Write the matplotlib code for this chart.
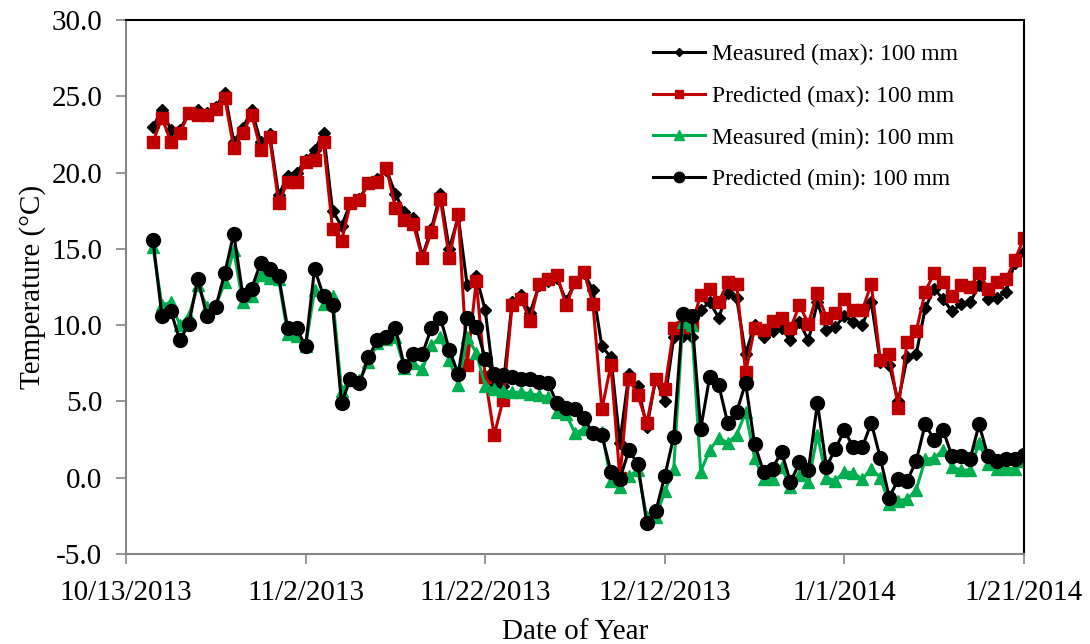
import matplotlib
matplotlib.use("Agg")
import matplotlib.pyplot as plt
import pandas as pd

plt.rcParams['font.family'] = ['Liberation Serif', 'DejaVu Serif']

# daily series, 10/16/2013 .. 1/21/2014
dates = pd.date_range("2013-10-16", "2014-01-21", freq="D")

meas_max = [23.0, 24.1, 22.8, 22.8, 23.9, 24.1, 23.9, 24.3, 25.2, 22.0,
            22.9, 24.1, 22.0, 22.5, 18.5, 19.8, 20.0, 20.8, 21.5, 22.6,
            17.5, 16.5, 18.0, 18.3, 19.3, 19.6, 20.2, 18.6, 17.4, 17.0,
            14.5, 16.3, 18.6, 15.0, 17.1, 12.6, 13.2, 11.0, 6.2, 6.0,
            11.5, 12.0, 10.8, 12.6, 12.9, 13.1, 11.6, 12.8, 13.4, 12.3,
            8.6, 7.9, 2.3, 6.8, 6.0, 3.3, 6.5, 5.0, 9.2, 9.3,
            9.2, 11.0, 11.5, 10.5, 12.1, 11.8, 8.1, 10.0, 9.2, 9.6,
            9.8, 9.0, 10.2, 9.0, 11.5, 9.7, 9.9, 10.6, 10.2, 10.0,
            11.5, 7.6, 7.4, 5.0, 7.9, 8.1, 11.1, 12.4, 11.7, 10.9,
            11.4, 11.5, 12.6, 11.7, 11.8, 12.2, 14.1, 14.8]

pred_max = [22.0, 23.6, 22.0, 22.6, 23.9, 23.8, 23.8, 24.2, 24.9, 21.6,
            22.6, 23.8, 21.5, 22.3, 18.0, 19.4, 19.4, 20.7, 20.8, 22.0,
            16.3, 15.5, 18.0, 18.2, 19.3, 19.4, 20.3, 17.7, 16.9, 16.6,
            14.4, 16.1, 18.3, 14.4, 17.3, 7.4, 12.9, 6.6, 2.8, 5.1,
            11.3, 11.7, 10.3, 12.7, 13.0, 13.3, 11.3, 12.8, 13.5, 11.4,
            4.5, 7.4, 0.0, 6.5, 5.4, 3.6, 6.5, 5.8, 9.8, 9.9,
            10.0, 12.0, 12.4, 11.5, 12.8, 12.7, 6.9, 9.8, 9.7, 10.3,
            10.5, 9.8, 11.3, 10.1, 12.1, 10.5, 10.8, 11.7, 11.0, 11.0,
            12.7, 7.7, 8.1, 4.6, 8.9, 9.6, 12.2, 13.4, 12.8, 11.9,
            12.6, 12.5, 13.4, 12.4, 12.8, 13.0, 14.3, 15.7]

meas_min = [15.1, 11.3, 11.5, 10.0, 10.6, 12.6, 11.2, 11.3, 12.8, 14.9,
            11.5, 11.9, 13.3, 13.1, 13.0, 9.4, 9.3, 8.6, 12.3, 11.4,
            11.9, 5.7, 6.4, 6.4, 7.6, 8.8, 9.1, 9.2, 7.2, 7.5,
            7.1, 8.7, 9.2, 7.7, 6.1, 9.2, 8.2, 6.0, 5.8, 5.7,
            5.6, 5.6, 5.5, 5.4, 5.3, 4.3, 4.2, 2.9, 3.2, 3.0,
            3.0, -0.2, -0.6, 0.1, 0.5, -2.6, -2.6, -0.9, 0.6, 10.2,
            10.0, 0.4, 1.8, 2.6, 2.3, 2.8, 4.3, 1.3, -0.1, -0.1,
            0.7, -0.6, 0.2, -0.3, 2.8, 0.0, -0.2, 0.4, 0.3, -0.1,
            0.6, 0.0, -1.7, -1.5, -1.4, -0.8, 1.2, 1.3, 1.8, 0.7,
            0.5, 0.5, 2.3, 0.9, 0.6, 0.6, 0.6, 1.1]

pred_min = [15.6, 10.6, 10.9, 9.0, 10.1, 13.0, 10.6, 11.2, 13.4, 16.0,
            12.0, 12.4, 14.1, 13.7, 13.2, 9.8, 9.8, 8.6, 13.7, 11.9,
            11.3, 4.9, 6.5, 6.2, 7.9, 9.0, 9.2, 9.8, 7.3, 8.1,
            8.1, 9.8, 10.5, 8.4, 6.8, 10.5, 9.9, 7.8, 6.8, 6.7,
            6.6, 6.5, 6.5, 6.3, 6.2, 4.9, 4.6, 4.5, 3.9, 2.9,
            2.8, 0.4, -0.1, 1.8, 0.9, -3.0, -2.2, 0.1, 2.7, 10.7,
            10.6, 3.2, 6.6, 6.1, 3.6, 4.3, 6.2, 2.2, 0.4, 0.6,
            1.7, -0.3, 1.0, 0.5, 4.9, 0.7, 1.9, 3.1, 2.0, 2.0,
            3.6, 1.3, -1.3, -0.1, -0.2, 1.1, 3.5, 2.5, 3.1, 1.4,
            1.4, 1.2, 3.5, 1.4, 1.1, 1.2, 1.2, 1.5]

tick_dates = pd.date_range("2013-10-13", "2014-01-21", freq="20D")
tick_labels = ["10/13/2013", "11/2/2013", "11/22/2013", "12/12/2013",
               "1/1/2014", "1/21/2014"]

fig = plt.figure(figsize=(10.9, 6.44), dpi=100)
ax = fig.add_axes([0.1156, 0.1398, 0.8238, 0.8291])

ax.plot(dates, meas_max, color='black', lw=2.2, marker='D', ms=6,
        label='Measured (max): 100 mm')
ax.plot(dates, pred_max, color='#C00000', lw=2.2, marker='s', ms=8,
        label='Predicted (max): 100 mm')
ax.plot(dates, meas_min, color='#00B050', lw=2.2, marker='^', ms=9,
        label='Measured (min): 100 mm')
ax.plot(dates, pred_min, color='black', lw=2.2, marker='o', ms=10,
        label='Predicted (min): 100 mm')

ax.set_xlim(tick_dates[0], tick_dates[-1])
ax.set_xticks(tick_dates)
ax.set_xticklabels(tick_labels)
ax.set_ylim(-5, 30)
ax.set_yticks(range(-5, 31, 5))
ax.set_yticklabels(["%.1f" % v for v in range(-5, 31, 5)])

for side in ('left', 'bottom'):
    ax.spines[side].set_color('#868686')
    ax.spines[side].set_linewidth(1.5)
for side in ('top', 'right'):
    ax.spines[side].set_color('black')
    ax.spines[side].set_linewidth(1.5)
ax.tick_params(axis='both', direction='out', length=7, width=1.2,
               color='#868686', labelsize=21)
ax.tick_params(axis='y', pad=10)
ax.tick_params(axis='x', pad=12)

ax.set_ylabel('Temperature (°C)', fontsize=21, labelpad=4)
ax.set_xlabel('Date of Year', fontsize=21, labelpad=9)

leg = ax.legend(loc='upper right', bbox_to_anchor=(0.95, 0.995),
                frameon=False, fontsize=17, handlelength=2.2,
                handletextpad=0.3, labelspacing=0.85, markerscale=0.75)

fig.savefig('out.png', dpi=100)
